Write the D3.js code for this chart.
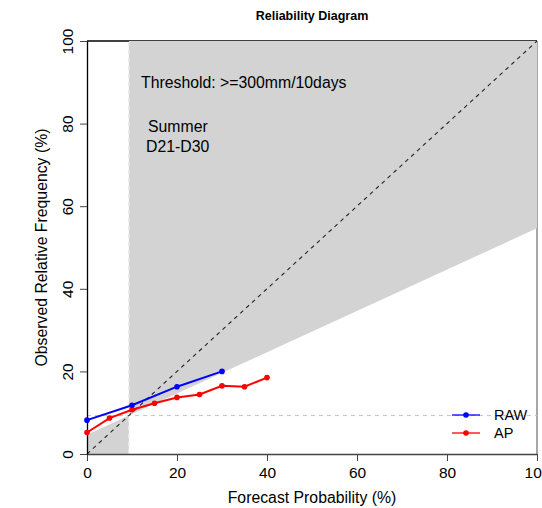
<!DOCTYPE html>
<html>
<head>
<meta charset="utf-8">
<script src="https://cdn.jsdelivr.net/npm/d3@7"></script>
<style>
  body { margin: 0; background: #fff; }
  svg { font-family: "Liberation Sans", Arial, sans-serif; }
</style>
</head>
<body>
<div id="chart"></div>
<script>
// forecast probability bins (%) and observed frequencies (%)
const rawProb = [0, 10, 20, 30];
const rawObs = [8.2, 11.8, 16.3, 20.0];
const apProb = [0, 5, 10, 15, 20, 25, 30, 35, 40];
const apObs = [5.2, 8.7, 10.7, 12.3, 13.7, 14.4, 16.5, 16.3, 18.5];
const climatology = 9.3;
const tickValues = [0, 20, 40, 60, 80, 100];
const seriesNames = ['RAW', 'AP'];
const seriesColors = ['#0000ff', '#ff0000'];

const width = 542, height = 508;
const margin = { top: 41, right: 5, bottom: 54, left: 87 };

const svg = d3.select('#chart').append('svg')
    .attr('width', width)
    .attr('height', height);

const x = d3.scaleLinear().domain([0, 100]).range([margin.left, width - margin.right]);
const y = d3.scaleLinear().domain([0, 100]).range([height - margin.bottom, margin.top]);

// box (drawn first, skill area covers part of it)
svg.append('line').attr('x1', x(0)).attr('x2', x(100)).attr('y1', y(100)).attr('y2', y(100))
    .attr('stroke', '#000').attr('stroke-width', 1.3);
svg.append('line').attr('x1', x(100)).attr('x2', x(100)).attr('y1', y(0)).attr('y2', y(100))
    .attr('stroke', '#888').attr('stroke-width', 1.5);

// skill region: between no-skill line and the climatology vertical
const noSkill = p => (p + climatology) / 2;
const area1 = [[climatology, noSkill(climatology)], [100, noSkill(100)], [100, 100], [climatology, 100]];
const area2 = [[0, 0], [climatology, 0], [climatology, noSkill(climatology)], [0, noSkill(0)]];
[area1, area2].forEach(pts => {
  svg.append('path')
      .attr('d', d3.line().x(d => x(d[0])).y(d => y(d[1]))(pts) + 'Z')
      .attr('fill', '#d3d3d3');
});

// climatology lines
svg.append('line')
    .attr('x1', x(0)).attr('x2', x(100)).attr('y1', y(climatology)).attr('y2', y(climatology))
    .attr('stroke', '#c4c4c4').attr('stroke-dasharray', '4,4');
svg.append('line')
    .attr('x1', x(climatology)).attr('x2', x(climatology)).attr('y1', y(0)).attr('y2', y(100))
    .attr('stroke', '#ececec').attr('stroke-width', 1.5).attr('stroke-dasharray', '4,4');

// perfect reliability diagonal
svg.append('line')
    .attr('x1', x(0)).attr('x2', x(100)).attr('y1', y(0)).attr('y2', y(100))
    .attr('stroke', '#222').attr('stroke-width', 1.1).attr('stroke-dasharray', '4,4');

// axes
const xAxis = d3.axisBottom(x).tickValues(tickValues).tickSize(7).tickSizeOuter(0);
const gx = svg.append('g')
    .attr('transform', `translate(0,${y(0)})`)
    .call(xAxis);
gx.select('.domain').attr('stroke', '#444').attr('stroke-width', 1.3);
gx.selectAll('.tick line').attr('stroke', '#444');
gx.selectAll('.tick text').attr('font-size', 15.5).attr('fill', '#000').attr('y', 13).attr('dy', '0.71em');

const yAxis = d3.axisLeft(y).tickValues(tickValues).tickSize(7).tickSizeOuter(0);
const gy = svg.append('g')
    .attr('transform', `translate(${x(0)},0)`)
    .call(yAxis);
gy.select('.domain').attr('stroke', '#000').attr('stroke-width', 1.3);
gy.selectAll('.tick line').attr('stroke', '#444');
gy.selectAll('.tick text')
    .attr('font-size', 15.5).attr('fill', '#000')
    .attr('x', 0).attr('dy', 0)
    .attr('text-anchor', 'middle')
    .attr('transform', 'translate(-14,0) rotate(-90)');

// axis titles
svg.append('text')
    .attr('x', (x(0) + x(100)) / 2).attr('y', 503)
    .attr('text-anchor', 'middle').attr('font-size', 15.8)
    .text('Forecast Probability (%)');
svg.append('text')
    .attr('transform', `translate(47,${(y(0) + y(100)) / 2}) rotate(-90)`)
    .attr('text-anchor', 'middle').attr('font-size', 15.8)
    .text('Observed Relative Frequency (%)');

// title
svg.append('text')
    .attr('x', (x(0) + x(100)) / 2).attr('y', 20)
    .attr('text-anchor', 'middle').attr('font-size', 12.5).attr('font-weight', 'bold')
    .text('Reliability Diagram');

// annotations
svg.append('text').attr('x', 141).attr('y', 88).attr('font-size', 15.8)
    .text('Threshold: >=300mm/10days');
svg.append('text').attr('x', 148).attr('y', 132).attr('font-size', 15.8).text('Summer');
svg.append('text').attr('x', 146).attr('y', 152).attr('font-size', 15.8).text('D21-D30');

// series
const series = [
  { name: seriesNames[0], color: seriesColors[0], data: rawProb.map((p, i) => [p, rawObs[i]]) },
  { name: seriesNames[1], color: seriesColors[1], data: apProb.map((p, i) => [p, apObs[i]]) }
];
const line = d3.line().x(d => x(d[0])).y(d => y(d[1]));

series.slice().reverse().forEach(s => {
  svg.append('path')
      .datum(s.data)
      .attr('d', line)
      .attr('fill', 'none')
      .attr('stroke', s.color)
      .attr('stroke-width', 2);
  svg.selectAll(null)
      .data(s.data)
      .enter().append('circle')
      .attr('cx', d => x(d[0]))
      .attr('cy', d => y(d[1]))
      .attr('r', 2.8)
      .attr('fill', s.color);
});

// legend
const legend = svg.append('g').attr('transform', 'translate(452,415)');
series.forEach((s, i) => {
  const g = legend.append('g').attr('transform', `translate(0,${i * 18})`);
  g.append('line').attr('x1', 0).attr('x2', 28).attr('stroke', s.color).attr('stroke-width', 1.3);
  g.append('circle').attr('cx', 14).attr('r', 2.8).attr('fill', s.color);
  g.append('text').attr('x', 42).attr('dy', '0.35em').attr('font-size', 14.5).text(s.name);
});
</script>
</body>
</html>
